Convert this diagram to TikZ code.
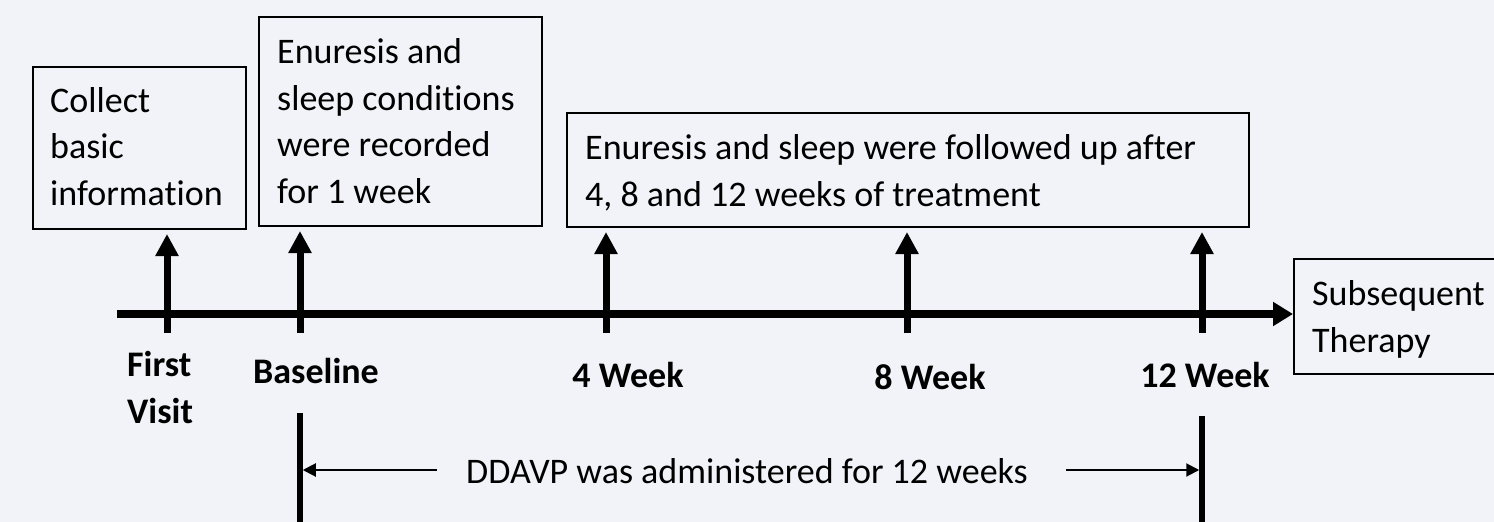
\documentclass[tikz,border=0pt]{standalone}
\usepackage{fontspec}
\setmainfont{Carlito}[RawFeature={-liga;-dlig}]
\usetikzlibrary{arrows.meta}
\definecolor{bgc}{RGB}{242,243,248}
\tikzset{
  boxframe/.style={draw=black, line width=2pt, inner sep=0pt, anchor=north west},
  boxtext/.style={inner sep=0pt, anchor=base west, align=left, font=\fontsize{36}{46.5}\selectfont},
  lbl/.style={inner sep=0pt, anchor=base, font=\fontsize{36}{47}\selectfont\bfseries},
  upar/.style={line width=7pt, -{Triangle[width=22pt,length=22pt]}, shorten >=4pt},
  mainline/.style={line width=8pt, -{Triangle[width=23pt,length=20pt]}},
  bar/.style={line width=5.5pt},
  thinar/.style={line width=2pt, -{Triangle[width=13pt,length=13pt]}},
}
\begin{document}
\begin{tikzpicture}[x=1pt,y=-1pt]
\useasboundingbox (0,0) rectangle (1494,522);
\fill[bgc] (0,0) rectangle (1494,522);

% boxes (text nodes anchored at the baseline of their last line)
\node[boxframe, minimum width=213pt, minimum height=162pt] (b1) at (32,66) {};
\node[boxtext] (b1t) at (50,205) {Collect\\basic\\information};
\node[boxframe, minimum width=283pt, minimum height=209pt] (b2) at (258,16) {};
\node[boxtext] (b2t) at (277,203) {Enuresis and\\sleep conditions\\were recorded\\for 1 week};
\node[boxframe, minimum width=682pt, minimum height=114pt] (b3) at (566,112) {};
\node[boxtext] (b3t) at (585,206) {Enuresis and sleep were followed up after\\4, 8 and 12 weeks of treatment};
\node[boxframe, line width=1.5pt, minimum width=215pt, minimum height=115pt] (sub) at (1293,258) {};
\node[boxtext] (subt) at (1312,352) {Subsequent\\Therapy};

% timeline
\coordinate (tl0) at (117,314);
\draw[mainline] (tl0) -- (sub.west |- tl0);

% tick arrows
\coordinate (t1) at (167,333);
\coordinate (t2) at (300,333);
\coordinate (t3) at (606,333);
\coordinate (t4) at (907,333);
\coordinate (t5) at (1202,333);
\draw[upar] (t1) -- (b1.south -| t1);
\draw[upar] (t2) -- (b2.south -| t2);
\draw[upar] (t3) -- (b3.south -| t3);
\draw[upar] (t4) -- (b3.south -| t4);
\draw[upar] (t5) -- (b3.south -| t5);

% labels
\node[lbl, align=left, anchor=base west] (l1) at (127,423) {First\\Visit};
\node[lbl] (l2) at (316,383) {Baseline};
\node[lbl] (l3) at (628,387) {4 Week};
\node[lbl] (l4) at (930,389) {8 Week};
\node[lbl] (l5) at (1205,387) {12 Week};

% DDAVP span
\coordinate (v1a) at (300,413);
\coordinate (v1b) at (300,530);
\coordinate (v2a) at (1202,416);
\coordinate (v2b) at (1202,530);
\draw[bar] (v1a) -- (v1b);
\draw[bar] (v2a) -- (v2b);
\node[boxtext, anchor=base] (dd) at (747,483) {DDAVP was administered for 12 weeks};
\coordinate (la) at (437,470);
\coordinate (ra) at (1066,470);
\draw[thinar] (la) -- ([xshift=2.75pt]v1a |- la);
\draw[thinar] (ra) -- ([xshift=-2.75pt]v2a |- ra);
\end{tikzpicture}
\end{document}
